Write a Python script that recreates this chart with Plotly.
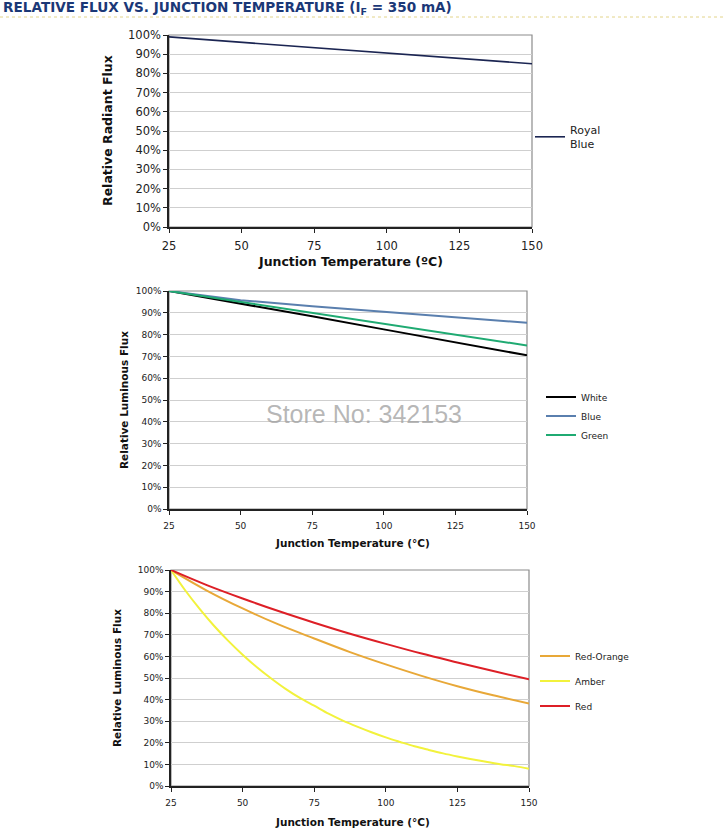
import plotly.graph_objects as go

# chart 1 - royal blue
temp_1 = [25, 50, 75, 100, 125, 150]
royal_blue = [99.0, 96.2, 93.4, 90.6, 87.8, 85.0]

# chart 2 - white / blue / green
temp_2 = [25, 50, 75, 100, 125, 150]
white = [100, 94.3, 88.4, 82.4, 76.5, 70.5]
blue = [100, 95.8, 93.0, 90.5, 88.0, 85.4]
green = [100, 95.0, 90.0, 85.2, 80.0, 75.0]

# chart 3 - red-orange / amber / red
temp_3 = [25, 37.5, 50, 62.5, 75, 87.5, 100, 112.5, 125, 137.5, 150]
red_orange = [100, 90.5, 82.2, 74.8, 68.3, 62.0, 56.3, 51.0, 46.2, 42.0, 38.2]
red = [100, 93.0, 86.8, 81.0, 75.6, 70.5, 65.8, 61.3, 57.2, 53.2, 49.4]
temp_amber = [25, 30, 35, 40, 45, 50, 55, 60, 65, 70, 75, 80, 85, 90, 95,
              100, 105, 110, 115, 120, 125, 130, 135, 140, 145, 150]
amber = [100, 90.5, 82.0, 74.2, 67.2, 60.8, 55.0, 49.8, 45.0, 40.8, 37.2,
         33.5, 30.3, 27.5, 24.9, 22.5, 20.4, 18.4, 16.7, 15.1, 13.7, 12.4,
         11.2, 10.1, 9.2, 8.0]

W, H = 726, 830
FONT = "DejaVu Sans"


def px_x(v):
    return v / W


def px_y(v):
    return 1 - v / H


fig = go.Figure()

fig.add_trace(go.Scatter(x=temp_1, y=royal_blue, name="Royal<br>Blue", mode="lines",
                         line=dict(color="#1b2552", width=1.6), xaxis="x", yaxis="y",
                         legend="legend"))

for name, vals, col in [("White", white, "#000000"), ("Blue", blue, "#5a7fae"),
                        ("Green", green, "#1faa72")]:
    fig.add_trace(go.Scatter(x=temp_2, y=vals, name=name, mode="lines",
                             line=dict(color=col, width=2), xaxis="x2", yaxis="y2",
                             legend="legend2"))

# separate legend groups so the gap between entries can be widened
fig.add_trace(go.Scatter(x=temp_3, y=red_orange, name="Red-Orange", mode="lines",
                         line=dict(color="#e8a838", width=2, shape="spline"),
                         xaxis="x3", yaxis="y3", legend="legend3", legendgroup="ro"))
fig.add_trace(go.Scatter(x=temp_amber, y=amber, name="Amber", mode="lines",
                         line=dict(color="#f2f23c", width=2, shape="spline"),
                         xaxis="x3", yaxis="y3", legend="legend3", legendgroup="am"))
fig.add_trace(go.Scatter(x=temp_3, y=red, name="Red", mode="lines",
                         line=dict(color="#dd1f26", width=2, shape="spline"),
                         xaxis="x3", yaxis="y3", legend="legend3", legendgroup="rd"))

# plot areas in pixels: (left, right, top, bottom)
boxes = [(169, 532, 35, 227), (169, 527, 291, 509), (171, 529, 570, 786)]
tick_sizes = [11.5, 9, 9]


def x_axis(box, size, anchor):
    return dict(domain=[px_x(box[0]), px_x(box[1])], anchor=anchor, range=[25, 150],
                dtick=25, tick0=25, showgrid=False, zeroline=False, showline=True,
                linecolor="#222", linewidth=1.5, ticks="outside", ticklen=4,
                tickcolor="#222", ticklabelstandoff=3,
                tickfont=dict(size=size, color="#222", family=FONT))


def y_axis(box, size, anchor):
    return dict(domain=[px_y(box[3]), px_y(box[2])], anchor=anchor, range=[0, 100],
                dtick=10, ticksuffix="%", showgrid=True, gridcolor="#cfcfcf",
                zeroline=False, showline=True, linecolor="#222", linewidth=1.5,
                ticks="outside", ticklen=4, tickcolor="#222",
                tickfont=dict(size=size, color="#222", family=FONT))


fig.update_layout(
    width=W, height=H, showlegend=True,
    margin=dict(l=0, r=0, t=0, b=0, autoexpand=False),
    paper_bgcolor="white", plot_bgcolor="white",
    font=dict(family=FONT, color="#222"),
    xaxis=x_axis(boxes[0], tick_sizes[0], "y"),
    yaxis=y_axis(boxes[0], tick_sizes[0], "x"),
    xaxis2=x_axis(boxes[1], tick_sizes[1], "y2"),
    yaxis2=y_axis(boxes[1], tick_sizes[1], "x2"),
    xaxis3=x_axis(boxes[2], tick_sizes[2], "y3"),
    yaxis3=y_axis(boxes[2], tick_sizes[2], "x3"),
    legend=dict(x=px_x(530), y=px_y(137), xanchor="left", yanchor="middle",
                font=dict(size=11, family=FONT), bgcolor="rgba(0,0,0,0)"),
    legend2=dict(x=px_x(541), y=px_y(416), xanchor="left", yanchor="middle",
                 font=dict(size=9, family=FONT), bgcolor="rgba(0,0,0,0)"),
    legend3=dict(x=px_x(535), y=px_y(681), xanchor="left", yanchor="middle",
                 font=dict(size=9, family=FONT), bgcolor="rgba(0,0,0,0)",
                 tracegroupgap=6),
)

# gray border on top/right of each plot area
for ax in ["", "2", "3"]:
    fig.add_shape(type="rect", xref=f"x{ax} domain", yref=f"y{ax} domain",
                  x0=0, x1=1, y0=0, y1=1, line=dict(color="#8c8c8c", width=1.2),
                  layer="below")

# axis titles
ann = []
ann.append(dict(text="<b>Junction Temperature (ºC)</b>", x=px_x(350), y=px_y(261),
                font=dict(size=12.5)))
ann.append(dict(text="<b>Relative Radiant Flux</b>", x=px_x(107), y=px_y(131),
                textangle=-90, font=dict(size=12.5)))
ann.append(dict(text="<b>Junction Temperature (°C)</b>", x=px_x(352), y=px_y(543),
                font=dict(size=10.5)))
ann.append(dict(text="<b>Relative Luminous Flux</b>", x=px_x(124), y=px_y(400),
                textangle=-90, font=dict(size=10.5)))
ann.append(dict(text="<b>Junction Temperature (°C)</b>", x=px_x(352), y=px_y(822),
                font=dict(size=10.5)))
ann.append(dict(text="<b>Relative Luminous Flux</b>", x=px_x(117), y=px_y(678),
                textangle=-90, font=dict(size=10.5)))
for a in ann:
    a.update(xref="paper", yref="paper", showarrow=False, xanchor="center",
             yanchor="middle")
    a["font"].update(family=FONT, color="#111")
    fig.add_annotation(**a)

# page title + dotted rule
fig.add_annotation(text="<b>RELATIVE FLUX VS. JUNCTION TEMPERATURE (I<sub>F</sub> = 350 mA)</b>",
                   xref="paper", yref="paper", x=px_x(1), y=px_y(8), xanchor="left",
                   yanchor="middle", showarrow=False,
                   font=dict(size=13.6, family=FONT, color="#1b3877"))
fig.add_shape(type="line", xref="paper", yref="paper", x0=0, x1=1,
              y0=px_y(17), y1=px_y(17), line=dict(color="#e3d48a", width=1, dash="dot"))

# watermark
fig.add_annotation(text="Store No: 342153", xref="paper", yref="paper",
                   x=px_x(364), y=px_y(414), showarrow=False,
                   font=dict(size=25, family="Liberation Sans", color="rgba(160,160,160,0.75)"))

# page has a default 8px body margin; drop it so the figure fills the window
fig.write_html("out.html", config={"displayModeBar": False},
               post_script="document.body.style.margin='0';")
